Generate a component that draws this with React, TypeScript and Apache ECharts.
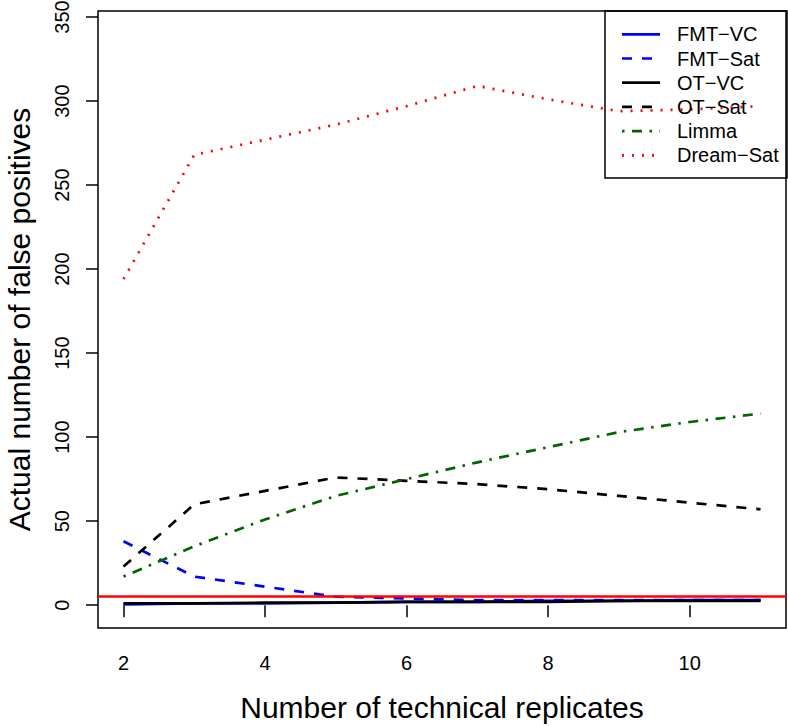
import React, { useEffect, useRef } from "react";
import * as echarts from "echarts";

// ---- data ----
const replicates = [2, 3, 4, 5, 6, 7, 8, 9, 10, 11];
const fmtVC = [0.5, 1, 1, 1.5, 2, 2, 2.5, 2.5, 3, 3];
const fmtSat = [38, 17, 11, 5, 4, 3, 3, 3, 3, 3];
const otVC = [1, 1, 1.5, 1.5, 2, 2, 2, 2.5, 2.5, 2.5];
const otSat = [23, 60, 68, 76, 74, 72, 69, 65, 61, 57];
const limma = [17, 35, 51, 65, 75, 85, 94, 103, 109, 114];
const dreamSat = [194, 268, 277, 286, 297, 309, 301, 294, 295, 297];
const seriesNames = ["FMT\u2212VC", "FMT\u2212Sat", "OT\u2212VC", "OT\u2212Sat", "Limma", "Dream\u2212Sat"];
const seriesValues = [fmtVC, fmtSat, otVC, otSat, limma, dreamSat];
const yTicks = [0, 50, 100, 150, 200, 250, 300, 350];
const xTicks = [2, 4, 6, 8, 10];
const thresholdLine = 5;
const xTitle = "Number of technical replicates";
const yTitle = "Actual number of false positives";

// ---- styles ----
const seriesColors = ["#0000ff", "#0000ff", "#000000", "#000000", "#006400", "#ff0000"];
const seriesDash: (number[] | "solid")[] = [
  "solid",
  [10, 10],
  "solid",
  [10, 10],
  [2.5, 7.5, 10, 7.5],
  [2, 8],
];
const FONT = "Liberation Sans, Arial, Helvetica, sans-serif";

export default function App() {
  const ref = useRef<HTMLDivElement>(null);

  useEffect(() => {
    if (!ref.current) return;
    const chart = echarts.init(ref.current, null, { renderer: "svg" });

    const series: any[] = seriesNames.map((name, i) => ({
      name,
      type: "line",
      data: replicates.map((x, j) => [x, seriesValues[i][j]]),
      symbol: "none",
      lineStyle: {
        color: seriesColors[i],
        width: 2.7,
        type: seriesDash[i],
        cap: "butt",
      },
      z: 2 + i,
    }));
    series[series.length - 1].markLine = {
      silent: true,
      symbol: ["none", "none"],
      label: { show: false },
      lineStyle: { color: "#ff0000", width: 2.5, type: "solid" },
      data: [{ yAxis: thresholdLine }],
      z: 20,
    };

    const legendLeft = 605;
    const legendTop = 11;
    const rowH = 24.2;
    const legendGraphics: any[] = [
      {
        type: "rect",
        shape: { x: legendLeft, y: legendTop, width: 182, height: 167 },
        style: { fill: "none", stroke: "#000", lineWidth: 1.5 },
        z: 30,
      },
    ];
    seriesNames.forEach((name, i) => {
      const cy = legendTop + 23.3 + rowH * i;
      legendGraphics.push({
        type: "line",
        shape: { x1: 622, y1: cy, x2: 660, y2: cy },
        style: {
          stroke: seriesColors[i],
          lineWidth: 2.7,
          lineDash: seriesDash[i] === "solid" ? null : (seriesDash[i] as number[]),
        },
        z: 30,
      });
      legendGraphics.push({
        type: "text",
        x: 677,
        y: cy,
        style: {
          text: name,
          fontSize: 20,
          fontFamily: FONT,
          fill: "#000",
          verticalAlign: "middle",
          align: "left",
        },
        z: 30,
      });
    });

    chart.setOption({
      animation: false,
      textStyle: { fontFamily: FONT },
      grid: {
        left: 98,
        right: 2,
        top: 11,
        bottom: 98,
        containLabel: false,
        outerBoundsMode: "none",
        show: true,
        borderColor: "#000",
        borderWidth: 1.5,
        backgroundColor: "transparent",
      },
      xAxis: {
        type: "value",
        min: 1.64,
        max: 11.36,
        name: xTitle,
        nameLocation: "middle",
        nameGap: 64,
        nameTextStyle: { fontSize: 30, color: "#000", fontFamily: FONT },
        axisLine: { show: false },
        splitLine: { show: false },
        axisTick: {
          show: true,
          length: 12,
          customValues: xTicks,
          lineStyle: { color: "#000", width: 1.5 },
        },
        axisLabel: {
          customValues: xTicks,
          fontSize: 20,
          color: "#000",
          margin: 25,
          fontFamily: FONT,
        },
      },
      yAxis: {
        type: "value",
        min: -13.6,
        max: 353.6,
        name: yTitle,
        nameLocation: "middle",
        nameGap: 64,
        nameTextStyle: { fontSize: 30, color: "#000", fontFamily: FONT },
        axisLine: { show: false },
        splitLine: { show: false },
        axisTick: {
          show: true,
          length: 12,
          customValues: yTicks,
          lineStyle: { color: "#000", width: 1.5 },
        },
        axisLabel: {
          customValues: yTicks,
          fontSize: 20,
          color: "#000",
          margin: 26,
          rotate: 90,
          fontFamily: FONT,
        },
      },
      series,
      graphic: legendGraphics,
    });

    return () => chart.dispose();
  }, []);

  return (
    <div style={{ position: "fixed", left: 0, top: 0, width: 788, height: 726, background: "#fff" }}>
      <div ref={ref} style={{ width: 788, height: 726 }} />
    </div>
  );
}
